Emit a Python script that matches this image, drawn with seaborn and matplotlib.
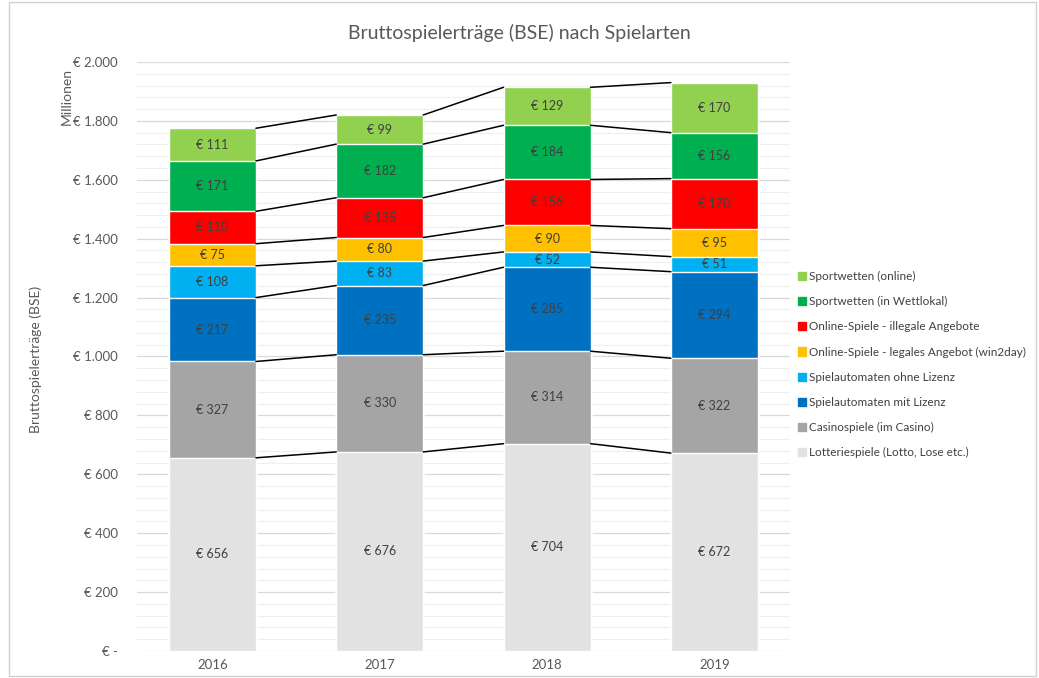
import matplotlib.pyplot as plt
import matplotlib.patches as mpatches
import seaborn as sns
import numpy as np

years = ['2016', '2017', '2018', '2019']

# bottom to top
series = [
    'Lotteriespiele (Lotto, Lose etc.)',
    'Casinospiele (im Casino)',
    'Spielautomaten mit Lizenz',
    'Spielautomaten ohne Lizenz',
    'Online-Spiele - legales Angebot (win2day)',
    'Online-Spiele - illegale Angebote',
    'Sportwetten (in Wettlokal)',
    'Sportwetten (online)',
]
lotterie = [656, 676, 704, 672]
casino = [327, 330, 314, 322]
automaten_lizenz = [217, 235, 285, 294]
automaten_ohne = [108, 83, 52, 51]
online_legal = [75, 80, 90, 95]
online_illegal = [110, 135, 156, 170]
wetten_lokal = [171, 182, 184, 156]
wetten_online = [111, 99, 129, 170]

values = [lotterie, casino, automaten_lizenz, automaten_ohne,
          online_legal, online_illegal, wetten_lokal, wetten_online]
colors = ['#E2E2E2', '#A5A5A5', '#0070C0', '#00B0F0',
          '#FFC000', '#FF0000', '#00B050', '#92D050']

sns.set_style('white')
plt.rcParams['font.family'] = ['Lato', 'DejaVu Sans']

fig = plt.figure(figsize=(10.39, 6.78), dpi=100)
ax = fig.add_axes([0.132, 0.0398, 0.628, 0.8688])

vals = np.array(values, dtype=float)
cum = np.cumsum(vals, axis=0)
w = 0.52

# draw cumulative bars from the top down so lower segments cover upper ones
for k in range(len(series) - 1, -1, -1):
    sns.barplot(x=years, y=cum[k], color=colors[k], saturation=1,
                width=w, ax=ax, zorder=2)

# connector lines between bars
for k in range(len(series)):
    for i in range(len(years) - 1):
        ax.plot([i + w / 2, i + 1 - w / 2], [cum[k][i], cum[k][i + 1]],
                color='black', lw=1.1, zorder=3)

# segment labels
for k in range(len(series)):
    for i in range(len(years)):
        base = cum[k][i] - vals[k][i]
        ax.text(i, base + vals[k][i] / 2, f'€ {int(vals[k][i])}',
                ha='center', va='center', fontsize=9, color='#404040', zorder=4)

ax.set_xlim(-0.45, 3.45)
ax.set_ylim(0, 2000)
ax.set_yticks(np.arange(0, 2001, 200))
ax.set_yticks(np.arange(0, 2001, 40), minor=True)
ax.set_yticklabels(['€ -'] + [f'€ {v:,}'.replace(',', '.') for v in range(200, 2001, 200)])
ax.grid(axis='y', which='major', color='#D9D9D9', lw=0.9, zorder=0)
ax.grid(axis='y', which='minor', color='#EEEEEE', lw=0.8, zorder=0)
ax.set_axisbelow(True)
for s in ax.spines.values():
    s.set_visible(False)
ax.tick_params(axis='both', length=0, labelsize=9.5, colors='#595959', pad=14)
ax.tick_params(axis='x', pad=6)
ax.set_xlabel('')
ax.set_ylabel('')

fig.text(0.5, 0.951, 'Bruttospielerträge (BSE) nach Spielarten', ha='center',
         va='center', fontsize=14, color='#595959')
fig.text(0.034, 0.47, 'Bruttospielerträge (BSE)', rotation=90, ha='center',
         va='center', fontsize=10, color='#595959')
fig.text(0.064, 0.857, 'Millionen', rotation=90, ha='center',
         va='center', fontsize=10, color='#595959')

handles = [mpatches.Patch(color=colors[k], label=series[k])
           for k in range(len(series) - 1, -1, -1)]
fig.legend(handles=handles, loc='center left', bbox_to_anchor=(0.766, 0.462),
           frameon=False, fontsize=8.5, handlelength=0.7, handleheight=0.7,
           handletextpad=0.25, labelspacing=1.2, labelcolor='#404040',
           borderaxespad=0, borderpad=0.2)

fig.patches.append(mpatches.Rectangle((0.009, 0.003), 0.988, 0.994,
                                      transform=fig.transFigure, fill=False,
                                      edgecolor='#D0D0D0', lw=1))

fig.savefig('out.png', dpi=100)
